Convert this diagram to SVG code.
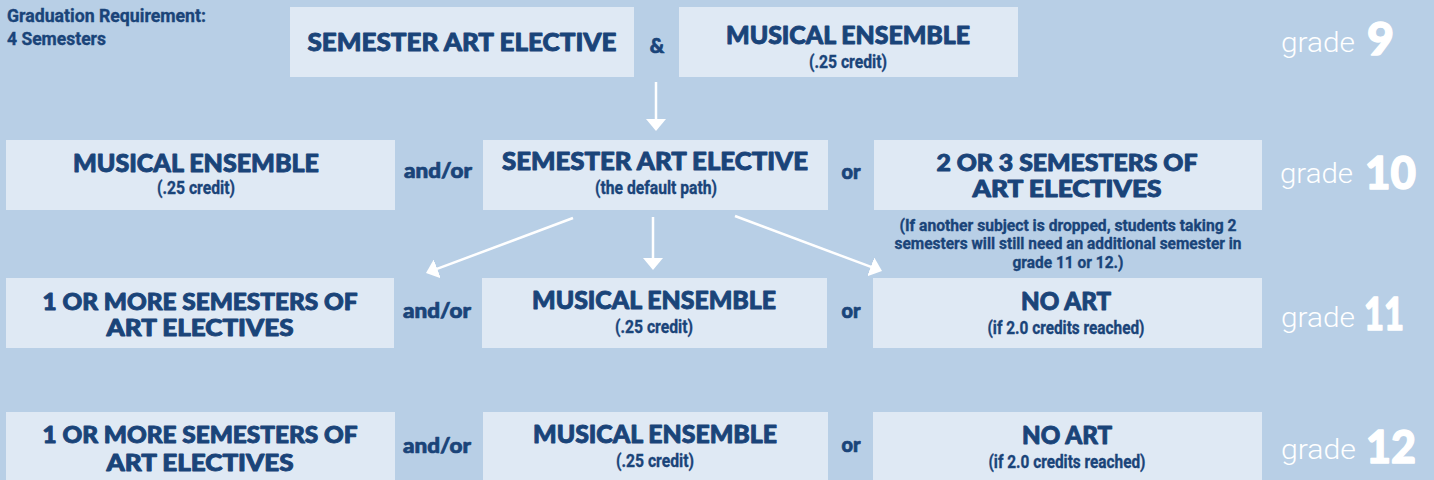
<svg xmlns="http://www.w3.org/2000/svg" width="1434" height="480" viewBox="0 0 1434 480">
<style>
.bg{fill:#b8cfe6}
.box{fill:#dfe9f4}
.h{font-family:Lato,Inter,"Liberation Sans",sans-serif;font-weight:900;fill:#1a4479;stroke:#1a4479;stroke-width:0.9;stroke-linejoin:round;text-anchor:middle}
.s{font-family:Roboto,"Liberation Sans",sans-serif;font-weight:700;fill:#1a4479;stroke:#1a4479;stroke-width:0.35;text-anchor:middle}
.c{font-family:Lato,Inter,"Liberation Sans",sans-serif;font-weight:900;fill:#1a4479;stroke:#1a4479;stroke-width:0.7;stroke-linejoin:round;text-anchor:middle;font-size:20px}
.g{font-family:Roboto,"Liberation Sans",sans-serif;font-weight:300;fill:#ffffff;font-size:27px}
.n{font-family:Lato,Roboto,"Liberation Sans",sans-serif;font-weight:900;fill:#ffffff;stroke:#ffffff;stroke-width:1.4;stroke-linejoin:round;font-size:46px}
.ar{stroke:#ffffff;stroke-width:2.5;fill:none;marker-end:url(#ah)}
</style>
<defs>
<marker id="ah" viewBox="0 0 12 20" markerWidth="12" markerHeight="20" refX="1" refY="10" orient="auto" markerUnits="userSpaceOnUse">
<path d="M0,0 L12,10 L0,20 z" fill="#ffffff"/>
</marker>
</defs>
<rect class="bg" x="0" y="0" width="1434" height="480"/>

<g id="requirement">
<text class="s" style="text-anchor:start" font-size="18" x="7" y="22" textLength="199" lengthAdjust="spacingAndGlyphs">Graduation Requirement:</text>
<text class="s" style="text-anchor:start" font-size="18" x="7" y="45" textLength="99" lengthAdjust="spacingAndGlyphs">4 Semesters</text>
</g>

<g id="g9-art">
<rect class="box" x="290" y="7" width="344" height="70"/>
<text class="h" font-size="25" x="462" y="51" textLength="309" lengthAdjust="spacingAndGlyphs">SEMESTER ART ELECTIVE</text>
</g>
<g id="g9-amp"><text class="c" x="657" y="53" font-size="22">&amp;</text></g>
<g id="g9-music">
<rect class="box" x="679" y="7" width="339" height="70"/>
<text class="h" font-size="24" x="848" y="44" textLength="244" lengthAdjust="spacingAndGlyphs">MUSICAL ENSEMBLE</text>
<text class="s" font-size="18" x="848" y="68" textLength="78" lengthAdjust="spacingAndGlyphs">(.25 credit)</text>
</g>

<g id="g10-music">
<rect class="box" x="6" y="140" width="389" height="70"/>
<text class="h" font-size="24" x="196" y="172" textLength="246" lengthAdjust="spacingAndGlyphs">MUSICAL ENSEMBLE</text>
<text class="s" font-size="18" x="196" y="194" textLength="78" lengthAdjust="spacingAndGlyphs">(.25 credit)</text>
</g>
<g id="g10-andor"><text class="c" x="438" y="178" textLength="68" lengthAdjust="spacingAndGlyphs">and/or</text></g>
<g id="g10-art">
<rect class="box" x="483" y="140" width="345" height="70"/>
<text class="h" font-size="24" x="655" y="170" textLength="306" lengthAdjust="spacingAndGlyphs">SEMESTER ART ELECTIVE</text>
<text class="s" font-size="18" x="656" y="194" textLength="122" lengthAdjust="spacingAndGlyphs">(the default path)</text>
</g>
<g id="g10-or"><text class="c" x="851" y="179" textLength="19" lengthAdjust="spacingAndGlyphs">or</text></g>
<g id="g10-multi">
<rect class="box" x="874" y="140" width="388" height="70"/>
<text class="h" font-size="22" x="1067" y="171" textLength="261" lengthAdjust="spacingAndGlyphs">2 OR 3 SEMESTERS OF</text>
<text class="h" font-size="22" x="1067" y="197" textLength="189" lengthAdjust="spacingAndGlyphs">ART ELECTIVES</text>
</g>
<g id="g10-note">
<text class="s" font-size="17" x="1068" y="231" textLength="337" lengthAdjust="spacingAndGlyphs">(If another subject is dropped, students taking 2</text>
<text class="s" font-size="17" x="1068" y="249" textLength="347" lengthAdjust="spacingAndGlyphs">semesters will still need an additional semester in</text>
<text class="s" font-size="17" x="1068" y="268" textLength="111" lengthAdjust="spacingAndGlyphs">grade 11 or 12.)</text>
</g>

<g id="g11-art">
<rect class="box" x="6" y="278" width="388" height="70"/>
<text class="h" font-size="22" x="200" y="310" textLength="315" lengthAdjust="spacingAndGlyphs">1 OR MORE SEMESTERS OF</text>
<text class="h" font-size="22" x="200" y="336" textLength="187" lengthAdjust="spacingAndGlyphs">ART ELECTIVES</text>
</g>
<g id="g11-andor"><text class="c" x="437" y="318" textLength="68" lengthAdjust="spacingAndGlyphs">and/or</text></g>
<g id="g11-music">
<rect class="box" x="482" y="278" width="345" height="70"/>
<text class="h" font-size="24" x="654" y="309" textLength="244" lengthAdjust="spacingAndGlyphs">MUSICAL ENSEMBLE</text>
<text class="s" font-size="18" x="654" y="333" textLength="78" lengthAdjust="spacingAndGlyphs">(.25 credit)</text>
</g>
<g id="g11-or"><text class="c" x="851" y="318" textLength="19" lengthAdjust="spacingAndGlyphs">or</text></g>
<g id="g11-noart">
<rect class="box" x="873" y="278" width="389" height="70"/>
<text class="h" font-size="24" x="1066" y="310" textLength="90" lengthAdjust="spacingAndGlyphs">NO ART</text>
<text class="s" font-size="18" x="1066" y="334" textLength="157" lengthAdjust="spacingAndGlyphs">(if 2.0 credits reached)</text>
</g>

<g id="g12-art">
<rect class="box" x="6" y="412" width="389" height="70"/>
<text class="h" font-size="22" x="200" y="443" textLength="315" lengthAdjust="spacingAndGlyphs">1 OR MORE SEMESTERS OF</text>
<text class="h" font-size="22" x="200" y="471" textLength="187" lengthAdjust="spacingAndGlyphs">ART ELECTIVES</text>
</g>
<g id="g12-andor"><text class="c" x="437" y="453" textLength="68" lengthAdjust="spacingAndGlyphs">and/or</text></g>
<g id="g12-music">
<rect class="box" x="483" y="412" width="345" height="70"/>
<text class="h" font-size="24" x="655" y="443" textLength="244" lengthAdjust="spacingAndGlyphs">MUSICAL ENSEMBLE</text>
<text class="s" font-size="18" x="655" y="467" textLength="78" lengthAdjust="spacingAndGlyphs">(.25 credit)</text>
</g>
<g id="g12-or"><text class="c" x="851" y="452" textLength="19" lengthAdjust="spacingAndGlyphs">or</text></g>
<g id="g12-noart">
<rect class="box" x="873" y="412" width="389" height="70"/>
<text class="h" font-size="24" x="1067" y="444" textLength="90" lengthAdjust="spacingAndGlyphs">NO ART</text>
<text class="s" font-size="18" x="1067" y="468" textLength="157" lengthAdjust="spacingAndGlyphs">(if 2.0 credits reached)</text>
</g>

<g id="grades">
<text class="g" x="1281" y="52" textLength="74" lengthAdjust="spacingAndGlyphs">grade</text>
<text class="n" x="1367" y="55" font-size="38" textLength="27" lengthAdjust="spacingAndGlyphs">9</text>
<text class="g" x="1280" y="183" textLength="73" lengthAdjust="spacingAndGlyphs">grade</text>
<text class="n" x="1365" y="189" textLength="51" lengthAdjust="spacingAndGlyphs">10</text>
<text class="g" x="1281" y="327" textLength="74" lengthAdjust="spacingAndGlyphs">grade</text>
<text class="n" x="1364" y="330" textLength="40" lengthAdjust="spacingAndGlyphs">11</text>
<text class="g" x="1281" y="459" textLength="75" lengthAdjust="spacingAndGlyphs">grade</text>
<text class="n" x="1366" y="463" textLength="50" lengthAdjust="spacingAndGlyphs">12</text>
</g>

<g id="connectors">
<line class="ar" x1="656" y1="82" x2="656" y2="120"/>
<line class="ar" x1="573" y1="218" x2="436.3" y2="269.2"/>
<line class="ar" x1="653" y1="217" x2="653" y2="259"/>
<line class="ar" x1="735" y1="216" x2="871.7" y2="267.2"/>
</g>
</svg>
